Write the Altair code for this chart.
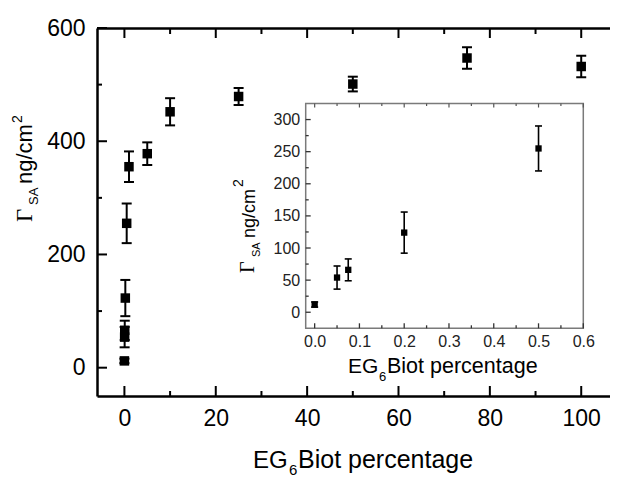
import altair as alt
import pandas as pd

# ---------------- data ----------------
main_x = [0, 0.05, 0.075, 0.2, 0.5, 1, 5, 10, 25, 50, 75, 100]
main_y = [12, 54, 66, 123, 255, 355, 378, 452, 479, 501, 547, 532]
main_err = [4, 18, 17, 32, 35, 27, 20, 24, 15, 13, 19, 19]

inset_x = [0, 0.05, 0.075, 0.2, 0.5]
inset_y = [12, 54, 66, 124, 255]
inset_err = [4, 18, 17, 32, 35]

main_x_ticks = [0, 20, 40, 60, 80, 100]
main_x_minor = [10, 30, 50, 70, 90]
main_y_ticks = [0, 200, 400, 600]
main_y_minor = [100, 300, 500]
inset_x_ticks = [0, 0.1, 0.2, 0.3, 0.4, 0.5, 0.6]
inset_x_minor = [0.05, 0.15, 0.25, 0.35, 0.45, 0.55]
inset_y_ticks = [0, 50, 100, 150, 200, 250, 300]
inset_y_minor = [25, 75, 125, 175, 225, 275]

main_x_domain = [-6, 106.3]
main_y_domain = [-50, 600]
inset_x_domain = [-0.02, 0.6]
inset_y_domain = [-25, 325]

# ---------------- layout ----------------
SANS = "Liberation Sans"
SERIF = "Liberation Serif"
W, H = 513, 368
IX0, IX1 = 208.7, 486.3   # inset pixel extent inside the plot area
IY0, IY1 = 300.3, 75.5

XS = alt.Scale(domain=main_x_domain, nice=False, zero=False)
YS = alt.Scale(domain=main_y_domain, nice=False, zero=False)
IXS = alt.Scale(domain=inset_x_domain, range=[IX0, IX1], nice=False, zero=False)
IYS = alt.Scale(domain=inset_y_domain, range=[IY0, IY1], nice=False, zero=False)

main_df = pd.DataFrame({"x": main_x, "y": main_y, "err": main_err})
main_df["lo"] = main_df["y"] - main_df["err"]
main_df["hi"] = main_df["y"] + main_df["err"]
inset_df = pd.DataFrame({"x": inset_x, "y": inset_y, "err": inset_err})
inset_df["lo"] = inset_df["y"] - inset_df["err"]
inset_df["hi"] = inset_df["y"] + inset_df["err"]

main_x_axis = alt.Axis(orient="bottom", values=main_x_ticks, title=None, ticks=False, grid=False,
                       domainColor="black", domainWidth=2.5, labelFont=SANS, labelFontSize=23,
                       labelColor="black", labelPadding=11, labelFlush=False, labelOverlap=False)
main_top_axis = alt.Axis(orient="top", title=None, labels=False, ticks=False, grid=False,
                         domainColor="black", domainWidth=2.5)
main_y_axis = alt.Axis(orient="left", values=main_y_ticks, title=None, ticks=False, grid=False,
                       domainColor="black", domainWidth=2.5, labelFont=SANS, labelFontSize=23,
                       labelColor="black", labelPadding=12, labelFlush=False, labelOverlap=False)
inset_x_axis = alt.Axis(orient="bottom", offset=-(H - IY0), values=inset_x_ticks, format=".1f",
                        title=None, ticks=False, domain=False, grid=False, labelFont=SANS,
                        labelFontSize=16, labelColor="#222", labelPadding=5, labelFlush=False,
                        labelOverlap=False, zindex=1)
inset_y_axis = alt.Axis(orient="left", offset=-IX0, values=inset_y_ticks, title=None, ticks=False,
                        domain=False, grid=False, labelFont=SANS, labelFontSize=16, labelColor="#222",
                        labelPadding=6, labelFlush=False, labelOverlap=False, zindex=1)


def xtick_rules(vals, scale, y0, y1, color, sw, axis=None):
    return alt.Chart(pd.DataFrame({"v": vals})).mark_rule(color=color, strokeWidth=sw).encode(
        x=alt.X("v:Q", scale=scale, axis=axis), y=alt.value(y0), y2=alt.value(y1))


def ytick_rules(vals, scale, x0, x1, color, sw, axis=None):
    return alt.Chart(pd.DataFrame({"v": vals})).mark_rule(color=color, strokeWidth=sw).encode(
        y=alt.Y("v:Q", scale=scale, axis=axis), x=alt.value(x0), x2=alt.value(x1))


layers = []
# main frame ticks
layers.append(xtick_rules(main_x_ticks, XS, H, H - 10, "black", 2, main_x_axis))
layers.append(xtick_rules(main_x_minor, XS, H, H - 5, "black", 2))
layers.append(xtick_rules(main_x_ticks, XS, 0, 10, "black", 2, main_top_axis))
layers.append(xtick_rules(main_x_minor, XS, 0, 6, "black", 2))
layers.append(ytick_rules(main_y_ticks, YS, 0, 10, "black", 2, main_y_axis))
layers.append(ytick_rules(main_y_minor, YS, 0, 5, "black", 2))

# main error bars + squares
mbase = alt.Chart(main_df)
layers.append(mbase.mark_rule(color="black", strokeWidth=2).encode(
    x=alt.X("x:Q", scale=XS, axis=None), y=alt.Y("lo:Q", scale=YS, axis=None), y2="hi:Q"))
for f in ["lo", "hi"]:
    layers.append(mbase.mark_tick(orient="horizontal", size=10, thickness=2, color="black", opacity=1).encode(
        x=alt.X("x:Q", scale=XS, axis=None), y=alt.Y(f + ":Q", scale=YS, axis=None)))
layers.append(mbase.mark_square(size=90, color="black", opacity=1).encode(
    x=alt.X("x:Q", scale=XS, axis=None), y=alt.Y("y:Q", scale=YS, axis=None)))

# inset frame
frame_df = pd.DataFrame({"x0": [inset_x_domain[0]], "x1": [inset_x_domain[1]],
                         "y0": [inset_y_domain[0]], "y1": [inset_y_domain[1]]})
layers.append(alt.Chart(frame_df).mark_rect(fill="white", stroke="#7a7a7a", strokeWidth=1.5).encode(
    x=alt.X("x0:Q", scale=IXS, axis=inset_x_axis), x2="x1:Q",
    y=alt.Y("y0:Q", scale=IYS, axis=inset_y_axis), y2="y1:Q"))

# inset ticks
layers.append(xtick_rules(inset_x_ticks, IXS, IY0, IY0 - 5, "#333", 1.3))
layers.append(xtick_rules(inset_x_minor, IXS, IY0, IY0 - 3, "#333", 1.3))
layers.append(xtick_rules(inset_x_ticks, IXS, IY1, IY1 + 4, "#555", 1.2))
layers.append(xtick_rules(inset_x_minor, IXS, IY1, IY1 + 2.5, "#555", 1.2))
layers.append(ytick_rules(inset_y_ticks, IYS, IX0, IX0 + 5, "#333", 1.3))
layers.append(ytick_rules(inset_y_minor, IYS, IX0, IX0 + 3, "#333", 1.3))

# inset error bars + squares
ibase = alt.Chart(inset_df)
layers.append(ibase.mark_rule(color="black", strokeWidth=1.6).encode(
    x=alt.X("x:Q", scale=IXS, axis=None), y=alt.Y("lo:Q", scale=IYS, axis=None), y2="hi:Q"))
for f in ["lo", "hi"]:
    layers.append(ibase.mark_tick(orient="horizontal", size=7, thickness=1.6, color="black", opacity=1).encode(
        x=alt.X("x:Q", scale=IXS, axis=None), y=alt.Y(f + ":Q", scale=IYS, axis=None)))
layers.append(ibase.mark_square(size=40, color="black", opacity=1).encode(
    x=alt.X("x:Q", scale=IXS, axis=None), y=alt.Y("y:Q", scale=IYS, axis=None)))

# titles (with sub/superscripts) – positions relative to the plot area
tbase = alt.Chart(pd.DataFrame({"t": [0]}))


def txt(text, x, y, size, font=SANS, angle=0, color="black"):
    return tbase.mark_text(text=text, font=font, fontSize=size, angle=angle, align="left",
                           baseline="alphabetic", color=color).encode(x=alt.value(x), y=alt.value(y))


# main x title
layers.append(txt("EG", 156, 440, 24))
layers.append(txt("6", 192, 447, 15))
layers.append(txt("Biot percentage", 201, 440, 25))
# main y title
layers.append(txt("\u0393", -65, 194, 23, font=SERIF, angle=270))
layers.append(txt("SA", -59, 177, 13, angle=270))
layers.append(txt("ng/cm", -65, 156, 22, angle=270))
layers.append(txt("2", -75, 95, 14, angle=270))
# inset x title
layers.append(txt("EG", 251, 345, 21))
layers.append(txt("6", 282, 353, 13))
layers.append(txt("Biot percentage", 290, 345, 21.5))
# inset y title
layers.append(txt("\u0393", 157, 245, 20, font=SERIF, angle=270))
layers.append(txt("SA", 163, 229, 11, angle=270))
layers.append(txt("ng/cm", 158, 210, 18, angle=270))
layers.append(txt("2", 146, 159, 14, angle=270))

chart = alt.layer(*layers).resolve_scale(x="independent", y="independent").properties(
    width=W, height=H,
    autosize=alt.AutoSizeParams(type="none"),
    padding={"left": 89, "top": 20, "right": 0, "bottom": 81},
    background="white",
).configure_view(stroke=None)

chart.save("out.html", embed_options={"renderer": "svg", "actions": False})
